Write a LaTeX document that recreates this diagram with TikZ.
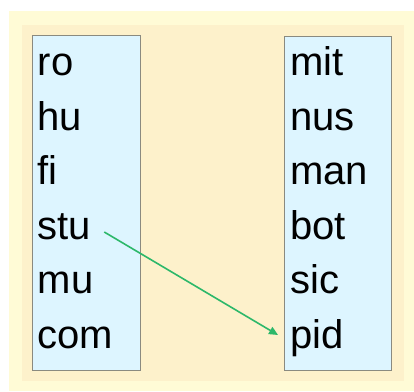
\documentclass[tikz,border=0pt]{standalone}
\usepackage{fontspec}
\setmainfont{Liberation Sans}
\usetikzlibrary{arrows.meta}
\definecolor{outery}{HTML}{FFFBD6}
\definecolor{innerb}{HTML}{FDF1CB}
\definecolor{boxblue}{HTML}{DDF5FF}
\definecolor{boxline}{HTML}{8A8A80}
\definecolor{arrowgreen}{HTML}{2DB86A}
\begin{document}
\begin{tikzpicture}[x=1pt,y=-1pt,
  listbox/.style={draw=boxline,line width=0.9pt,fill=boxblue,inner sep=0pt},
  word/.style={anchor=base west,inner sep=0pt,font=\fontsize{40}{40}\selectfont},
  link/.style={draw=arrowgreen,line width=1.6pt,-{Triangle[length=9pt,width=8pt]}}]
\useasboundingbox (0,0) rectangle (414,391);
\fill[white] (0,0) rectangle (414,391);
\fill[outery] (9,11) rectangle (414,391);
\fill[innerb] (22,25) rectangle (404,381);
\node[listbox,minimum width=108pt,minimum height=335pt,anchor=north west] (left) at (32,35) {};
\node[listbox,minimum width=107pt,minimum height=334pt,anchor=north west] (right) at (284,36) {};
\node[word] (ro) at (37.5,75) {ro};
\node[word] (hu) at (37.5,130) {hu};
\node[word] (fi) at (37.5,184) {fi};
\node[word] (stu) at (37.5,239) {stu};
\node[word] (mu) at (37.5,293) {mu};
\node[word] (com) at (37.5,348) {com};
\node[word] (mit) at (290,75) {mit};
\node[word] (nus) at (290,130) {nus};
\node[word] (man) at (290,184) {man};
\node[word] (bot) at (290,239) {bot};
\node[word] (sic) at (290,293) {sic};
\node[word] (pid) at (290,348) {pid};
\draw[link] ([xshift=13pt,yshift=7pt]stu.base east) -- ([xshift=-12pt,yshift=13pt]pid.base west);
\end{tikzpicture}
\end{document}
